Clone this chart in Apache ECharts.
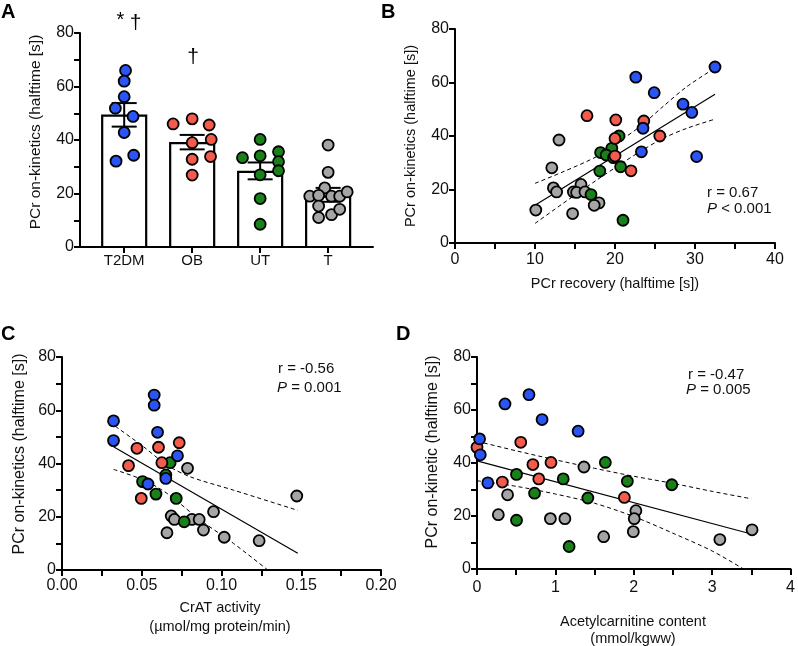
<!DOCTYPE html>
<html>
<head>
<meta charset="utf-8">
<script src="https://cdn.jsdelivr.net/npm/echarts@6/dist/echarts.min.js"></script>
<style>
  html, body { margin: 0; padding: 0; background: #fff; }
  #main { width: 798px; height: 646px; }
</style>
</head>
<body>
<div id="main"></div>
<script>
// ---- data ----
var groupNames = ['T2DM', 'OB', 'UT', 'T'];

// panel A: bar = mean, error = SEM
var barMeans = [49.1, 38.8, 28.1, 18.8];
var barSemLow = [45.0, 36.5, 25.3, 16.9];
var barSemHigh = [53.8, 41.9, 31.6, 22.1];

var aT2DM = [66, 62, 56.2, 51.9, 48.8, 42.8, 34.3, 32.1];
var aT2DMJitter = [0.02, 0, 0, -0.13, 0.13, 0, 0.14, -0.12];
var aOB = [47.9, 46, 45.6, 40.2, 39, 33.8, 32.8, 26.9];
var aOBJitter = [0, -0.28, 0.25, 0.28, 0, 0.27, 0, 0];
var aUT = [40.2, 33.4, 34.1, 35.6, 31.9, 28.5, 27, 18.1, 8.5];
var aUTJitter = [0, -0.26, 0, 0.27, 0.27, 0.27, 0, 0, 0];
var aT = [38.1, 27.9, 22.1, 19, 19.3, 19, 19, 20.6, 15.3, 11, 12.1, 14.1];
var aTJitter = [0, 0, -0.05, -0.27, -0.14, 0.05, 0.17, 0.28, -0.14, -0.14, 0.05, 0.17];

// panel B: PCr recovery vs on-kinetics
var bT2DM = [[32.5, 65.8], [22.6, 62], [24.9, 56.2], [28.5, 51.9], [29.6, 48.8], [23.5, 42.9], [23.3, 34.1], [30.2, 32.3]];
var bOB = [[16.5, 47.6], [20.1, 46], [23.6, 45.6], [25.6, 40], [20, 39.1], [20, 32.5], [22, 27]];
var bUT = [[20.5, 40], [19.6, 35.4], [18.2, 33.8], [18.9, 32.9], [19.8, 31.9], [20.7, 28.5], [18.1, 26.9], [17, 18.1], [21, 8.5]];
var bT = [[13, 38.5], [12.1, 28.1], [12.3, 20.6], [12.7, 19.1], [15.75, 21.9], [14.8, 19.1], [15.2, 18.9], [16.25, 19.1], [18, 15], [17.4, 14.1], [10.1, 12.3], [14.7, 11]];
var bFit = [[10, 14.1], [32.5, 55.6]];
var bUpper = [[10, 22.3], [13.5, 26.6], [17.7, 32.3], [20.2, 37.3], [23.1, 43.5], [26, 51], [29, 58.5], [32.5, 65.4]];
var bLower = [[10, 7.3], [13.5, 14.8], [17.7, 23.5], [20.2, 28.5], [23.1, 34.1], [26, 39.1], [29, 42.9], [32.5, 46.3]];

// panel C: CrAT activity
var cT2DM = [[0.0323, 56], [0.0323, 48.6], [0.0578, 65.7], [0.0578, 61.9], [0.0599, 51.7], [0.0724, 42.9], [0.0651, 34.4], [0.0539, 32.3]];
var cOB = [[0.047, 45.7], [0.0605, 46.1], [0.0735, 47.8], [0.0417, 39.2], [0.0626, 40.3], [0.0497, 26.9]];
var cUT = [[0.0678, 40.3], [0.0651, 35.7], [0.0505, 33.2], [0.0589, 28.5], [0.0716, 26.9], [0.0766, 18.1]];
var cT = [[0.0787, 38.2], [0.1472, 27.8], [0.095, 21.9], [0.0685, 20.3], [0.0705, 19], [0.0814, 19], [0.086, 19], [0.0887, 15], [0.0658, 14], [0.1017, 12.3], [0.1236, 11]];
var cFit = [[0.0323, 46.3], [0.1478, 6.3]];
var cUpper = [[0.0334, 54], [0.0511, 46.3], [0.0658, 39.4], [0.0804, 35], [0.1075, 30], [0.1478, 22.4]];
var cLower = [[0.0323, 37.8], [0.0511, 33.8], [0.0658, 28.8], [0.0866, 18.8], [0.1075, 10], [0.129, 0]];

// panel D: acetylcarnitine content
var dT2DM = [[0.663, 65.8], [0.357, 62.3], [0.83, 56.4], [1.29, 52], [0.033, 49.1], [0.042, 43.1], [0.138, 32.5]];
var dOB = [[0, 45.9], [0.558, 47.8], [0.713, 39.4], [0.944, 40.2], [0.788, 34], [0.323, 32.8], [1.88, 27]];
var dUT = [[1.637, 40.2], [0.504, 35.7], [1.1, 34], [1.918, 33.1], [2.485, 31.8], [0.734, 28.6], [1.414, 26.8], [0.504, 18.4], [1.175, 8.5]];
var dT = [[1.364, 38.5], [0.39, 28], [0.272, 20.5], [0.936, 19], [1.121, 19], [2.027, 22], [2.006, 19], [1.994, 14.1], [1.616, 12.2], [3.098, 11.1], [3.509, 14.8]];
var dFit = [[0, 40.8], [3.5, 13.2]];
var dUpper = [[0, 48.2], [0.5, 44.6], [1, 41.2], [1.5, 38], [2, 35], [2.5, 32.3], [3, 29.3], [3.5, 26.5]];
var dLower = [[0, 33.3], [0.5, 31.2], [1, 28.3], [1.5, 24.8], [2, 19.8], [2.5, 13.5], [3, 6.8], [3.4, 0]];

var colors = ['#2b54f5', '#f35b4d', '#1a801a', '#a5a5a5'];
var font = 'Liberation Sans, Arial, sans-serif';

var chart = echarts.init(document.getElementById('main'));

function axisStyle(o) {
    o.axisLine = { show: true, onZero: false, lineStyle: { color: '#000', width: 2 } };
    o.axisTick = o.axisTick || { show: true, length: 6, lineStyle: { color: '#000', width: 2 } };
    o.splitLine = { show: false };
    o.axisLabel = Object.assign({ color: '#111', fontSize: 16, fontFamily: font, margin: 6 }, o.axisLabel || {});
    return o;
}
function minor() {
    return { show: true, splitNumber: 2, length: 6, lineStyle: { color: '#000', width: 2 } };
}
function yAxis(i, withMinor) {
    return axisStyle({ type: 'value', gridIndex: i, min: 0, max: 80, interval: 20, minorTick: withMinor ? minor() : { show: false } });
}
function dots(i, data, color) {
    return {
        type: 'scatter', xAxisIndex: i, yAxisIndex: i, data: data, symbolSize: 11, clip: false, z: 5,
        itemStyle: { color: color, borderColor: '#000', borderWidth: 1.8, opacity: 1 }
    };
}
function line(i, data, dashed) {
    return {
        type: 'line', xAxisIndex: i, yAxisIndex: i, data: data, symbol: 'none', smooth: dashed ? 0.3 : false, z: 4,
        lineStyle: { color: '#000', width: dashed ? 1 : 1.2, type: dashed ? [4, 3] : 'solid' }
    };
}
function jitter(vals, jit, g) {
    return vals.map(function (v, k) { return [g + jit[k], v]; });
}

var option = {
    animation: false,
    textStyle: { fontFamily: font },
    grid: [
        { left: 80, top: 33, width: 293, height: 214 },
        { left: 455, top: 29, width: 320, height: 214 },
        { left: 62, top: 357, width: 319, height: 213 },
        { left: 477, top: 357, width: 317, height: 212 }
    ],
    xAxis: [
        axisStyle({
            type: 'value', gridIndex: 0, min: -0.65, max: 3.66,
            axisTick: { show: true, length: 6, customValues: [0, 1, 2, 3], lineStyle: { color: '#000', width: 2 } },
            axisLabel: { customValues: [0, 1, 2, 3], fontSize: 15, formatter: function (v) { return groupNames[Math.round(v)]; } }
        }),
        axisStyle({ type: 'value', gridIndex: 1, min: 0, max: 40, interval: 10, minorTick: minor(), axisLabel: { margin: 9 } }),
        axisStyle({
            type: 'value', gridIndex: 2, min: 0, max: 0.2, interval: 0.05, minorTick: minor(),
            axisLabel: { margin: 8, formatter: function (v) { return v.toFixed(2); } }
        }),
        axisStyle({ type: 'value', gridIndex: 3, min: 0, max: 4, interval: 1, minorTick: minor(), axisLabel: { margin: 11 } })
    ],
    yAxis: [yAxis(0, true), yAxis(1, false), yAxis(2, true), yAxis(3, true)],
    series: [
        // bars
        {
            type: 'custom', xAxisIndex: 0, yAxisIndex: 0, z: 2,
            data: barMeans.map(function (m, i) { return [i, m]; }),
            renderItem: function (params, api) {
                var top = api.coord([api.value(0), api.value(1)]);
                var base = api.coord([api.value(0), 0]);
                return {
                    type: 'rect',
                    shape: { x: top[0] - 22, y: top[1], width: 44, height: base[1] - top[1] },
                    style: { fill: '#fff', stroke: '#000', lineWidth: 2.2 }
                };
            }
        },
        // SEM error bars
        {
            type: 'custom', xAxisIndex: 0, yAxisIndex: 0, z: 3,
            data: barMeans.map(function (m, i) { return [i, barSemLow[i], barSemHigh[i]]; }),
            renderItem: function (params, api) {
                var lo = api.coord([api.value(0), api.value(1)]);
                var hi = api.coord([api.value(0), api.value(2)]);
                var st = { stroke: '#000', lineWidth: 2 };
                return {
                    type: 'group', children: [
                        { type: 'line', shape: { x1: lo[0], y1: lo[1], x2: hi[0], y2: hi[1] }, style: st },
                        { type: 'line', shape: { x1: hi[0] - 12.5, y1: hi[1], x2: hi[0] + 12.5, y2: hi[1] }, style: st },
                        { type: 'line', shape: { x1: lo[0] - 12.5, y1: lo[1], x2: lo[0] + 12.5, y2: lo[1] }, style: st }
                    ]
                };
            }
        },
        dots(0, jitter(aT2DM, aT2DMJitter, 0), colors[0]),
        dots(0, jitter(aOB, aOBJitter, 1), colors[1]),
        dots(0, jitter(aUT, aUTJitter, 2), colors[2]),
        dots(0, jitter(aT, aTJitter, 3), colors[3]),

        line(1, bFit, false), line(1, bUpper, true), line(1, bLower, true),
        dots(1, bT, colors[3]), dots(1, bUT, colors[2]), dots(1, bOB, colors[1]), dots(1, bT2DM, colors[0]),

        line(2, cFit, false), line(2, cUpper, true), line(2, cLower, true),
        dots(2, cT, colors[3]), dots(2, cUT, colors[2]), dots(2, cOB, colors[1]), dots(2, cT2DM, colors[0]),

        line(3, dFit, false), line(3, dUpper, true), line(3, dLower, true),
        dots(3, dT, colors[3]), dots(3, dUT, colors[2]), dots(3, dOB, colors[1]), dots(3, dT2DM, colors[0])
    ],
    graphic: [
        // panel letters
        { type: 'text', left: 1, top: 2, style: { text: 'A', font: 'bold 20px ' + font, fill: '#000' } },
        { type: 'text', left: 381, top: 2, style: { text: 'B', font: 'bold 20px ' + font, fill: '#000' } },
        { type: 'text', left: 1, top: 324, style: { text: 'C', font: 'bold 20px ' + font, fill: '#000' } },
        { type: 'text', left: 396, top: 324, style: { text: 'D', font: 'bold 20px ' + font, fill: '#000' } },
        // significance marks
        { type: 'text', x: 120.5, y: 20, style: { text: '*', font: '20px ' + font, fill: '#000', align: 'center', verticalAlign: 'middle' } },
        { type: 'text', x: 135.5, y: 23, style: { text: '†', font: '21px ' + font, fill: '#000', align: 'center', verticalAlign: 'middle' } },
        { type: 'text', x: 193, y: 57, style: { text: '†', font: '21px ' + font, fill: '#000', align: 'center', verticalAlign: 'middle' } },
        // axis titles
        { type: 'text', x: 36, y: 132, rotation: Math.PI / 2, style: { text: 'PCr on-kinetics (halftime [s])', font: '15.5px ' + font, fill: '#111', align: 'center', verticalAlign: 'middle' } },
        { type: 'text', x: 411, y: 136, rotation: Math.PI / 2, style: { text: 'PCr on-kinetics (halftime [s])', font: '14.5px ' + font, fill: '#111', align: 'center', verticalAlign: 'middle' } },
        { type: 'text', x: 615, y: 284, style: { text: 'PCr recovery (halftime [s])', font: '14.5px ' + font, fill: '#111', align: 'center', verticalAlign: 'middle' } },
        { type: 'text', x: 20, y: 454, rotation: Math.PI / 2, style: { text: 'PCr on-kinetics (halftime [s])', font: '16px ' + font, fill: '#111', align: 'center', verticalAlign: 'middle' } },
        { type: 'text', x: 220, y: 608, style: { text: 'CrAT activity', font: '14.5px ' + font, fill: '#111', align: 'center', verticalAlign: 'middle' } },
        { type: 'text', x: 220, y: 627, style: { text: '(µmol/mg protein/min)', font: '14.5px ' + font, fill: '#111', align: 'center', verticalAlign: 'middle' } },
        { type: 'text', x: 433, y: 452, rotation: Math.PI / 2, style: { text: 'PCr on-kinetic (halftime [s])', font: '16px ' + font, fill: '#111', align: 'center', verticalAlign: 'middle' } },
        { type: 'text', x: 633, y: 622, style: { text: 'Acetylcarnitine content', font: '14.5px ' + font, fill: '#111', align: 'center', verticalAlign: 'middle' } },
        { type: 'text', x: 633, y: 639, style: { text: '(mmol/kgww)', font: '14.5px ' + font, fill: '#111', align: 'center', verticalAlign: 'middle' } },
        // statistics
        { type: 'text', x: 707, y: 193, style: { text: 'r = 0.67', font: '15px ' + font, fill: '#111', verticalAlign: 'middle' } },
        { type: 'text', x: 707, y: 209, style: { text: '{i|P} < 0.001', font: '15px ' + font, fill: '#111', verticalAlign: 'middle', rich: { i: { fontStyle: 'italic', fontSize: 15, fontFamily: font } } } },
        { type: 'text', x: 278, y: 369, style: { text: 'r = -0.56', font: '15px ' + font, fill: '#111', verticalAlign: 'middle' } },
        { type: 'text', x: 277, y: 388, style: { text: '{i|P} = 0.001', font: '15px ' + font, fill: '#111', verticalAlign: 'middle', rich: { i: { fontStyle: 'italic', fontSize: 15, fontFamily: font } } } },
        { type: 'text', x: 688, y: 375, style: { text: 'r = -0.47', font: '15px ' + font, fill: '#111', verticalAlign: 'middle' } },
        { type: 'text', x: 686, y: 390, style: { text: '{i|P} = 0.005', font: '15px ' + font, fill: '#111', verticalAlign: 'middle', rich: { i: { fontStyle: 'italic', fontSize: 15, fontFamily: font } } } }
    ]
};

chart.setOption(option);
</script>
</body>
</html>
